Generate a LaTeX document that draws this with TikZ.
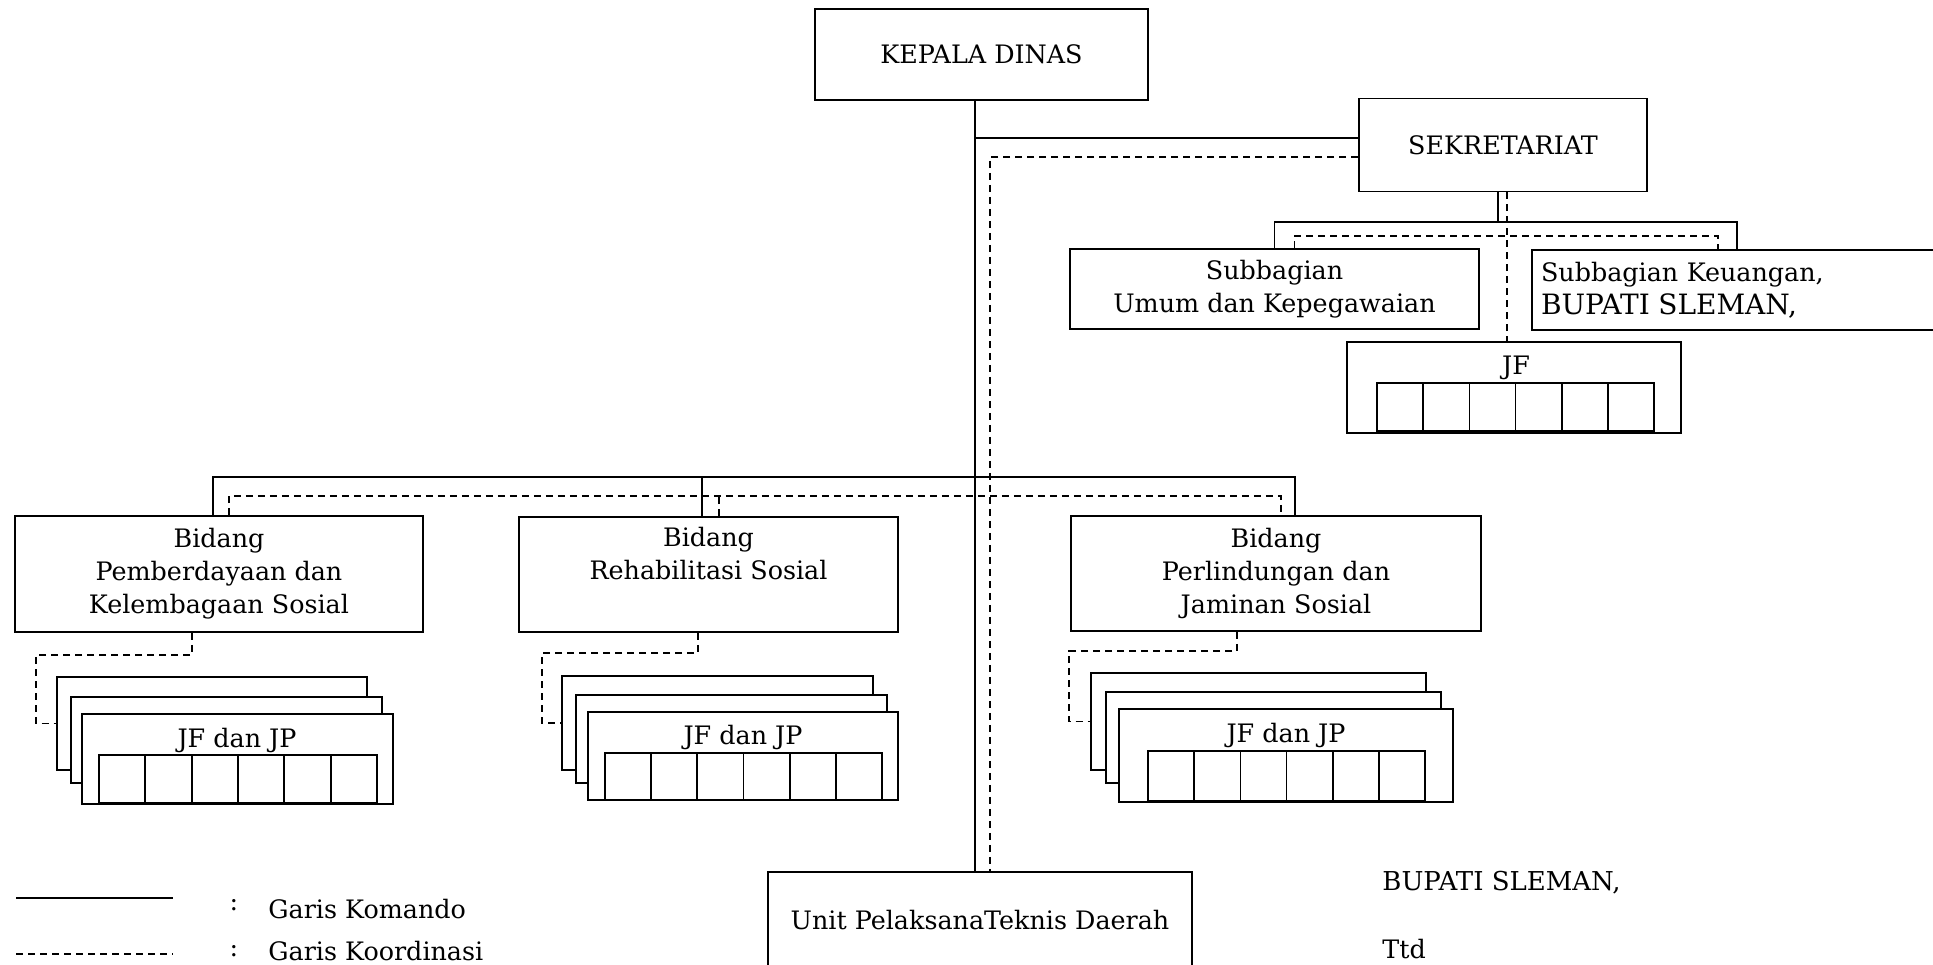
\documentclass[tikz,border=0pt]{standalone}
\usepackage{fontspec}
\setmainfont{DejaVu Serif}

\tikzset{
  box/.style={draw, line width=0.85pt, fill=white, inner sep=0pt, align=center, font=\fontsize{12.7}{16.5}\selectfont},
  sheet/.style={draw, line width=0.85pt, fill=white, inner sep=0pt},
  cell/.style={draw, line width=0.85pt},
  lbl/.style={inner sep=0pt, font=\fontsize{12.7}{16.5}\selectfont},
  komando/.style={line width=0.85pt},
  koord/.style={line width=0.85pt, dash pattern=on 3.5pt off 2.5pt}
}

\begin{document}
\begin{tikzpicture}[x=0.5pt,y=-0.5pt]
\useasboundingbox (0,0) rectangle (1933,964);
\clip (0,0) rectangle (1933,964);

% top
\node[box, minimum width=166.5pt, minimum height=45.5pt] (kepala) at (981.5,54.5) {KEPALA DINAS};
\node[box, minimum width=144pt, minimum height=46.5pt] (sekretariat) at (1503,145) {SEKRETARIAT};
\node[box, minimum width=204.5pt, minimum height=40pt] (subumum) at (1274.5,289) {Subbagian\\Umum dan Kepegawaian};
\node[box, minimum width=205pt, minimum height=40pt, text width=196pt, align=left] (subkeu) at (1737,290) {Subbagian Keuangan,\\{\fontsize{14}{17}\selectfont BUPATI SLEMAN,}};
\node[box, minimum width=167pt, minimum height=45.5pt] (jfsek) at (1514,387.5) {};
\node[lbl] (jfsektxt) at (1516,368) {JF};
\foreach \i in {0,...,5}
  \draw[cell] ({1377+\i*46.17},383) rectangle ++(46.17,48);

% bidang
\node[box, minimum width=204pt, minimum height=58pt] (bid1) at (219,574) {Bidang\\Pemberdayaan dan\\Kelembagaan Sosial};
\node[box, minimum width=189.5pt, minimum height=57.5pt] (bid2) at (708.5,574.5) {Bidang\\Rehabilitasi Sosial\\\strut};
\node[box, minimum width=205pt, minimum height=57.5pt] (bid3) at (1276,573.5) {Bidang\\Perlindungan dan\\Jaminan Sosial};

% jf dan jp
\node[sheet, minimum width=155pt, minimum height=46.5pt] (jf1a) at (212,723.5) {};
\node[sheet, minimum width=155.5pt, minimum height=43pt] (jf1b) at (226.5,740) {};
\node[sheet, minimum width=155.5pt, minimum height=45pt] (jf1c) at (237.5,759) {};
\node[lbl] (jf1txt) at (237,740) {JF dan JP};
\foreach \i in {0,...,5}
  \draw[cell] ({99+\i*46.33},755) rectangle ++(46.33,48);

\node[sheet, minimum width=155.5pt, minimum height=47pt] (jf2a) at (717.5,723) {};
\node[sheet, minimum width=155.5pt, minimum height=44pt] (jf2b) at (731.5,739) {};
\node[sheet, minimum width=155pt, minimum height=44pt] (jf2c) at (743,756) {};
\node[lbl] (jf2txt) at (743,737) {JF dan JP};
\foreach \i in {0,...,5}
  \draw[cell] ({605+\i*46.17},753) rectangle ++(46.17,47);

\node[sheet, minimum width=167.5pt, minimum height=48.5pt] (jf3a) at (1258.5,721.5) {};
\node[sheet, minimum width=167.5pt, minimum height=45.5pt] (jf3b) at (1273.5,737.5) {};
\node[sheet, minimum width=167pt, minimum height=46.5pt] (jf3c) at (1286,755.5) {};
\node[lbl] (jf3txt) at (1286,735) {JF dan JP};
\foreach \i in {0,...,5}
  \draw[cell] ({1148+\i*46.17},751) rectangle ++(46.17,50);

% bottom
\node[box, minimum width=212pt, minimum height=48pt] (unit) at (980,920) {Unit PelaksanaTeknis Daerah};
\node[lbl, anchor=base west, font=\fontsize{13}{16}\selectfont] (bupati) at (1382,890) {BUPATI SLEMAN,};
\node[lbl, anchor=base west] (ttd) at (1382,958) {Ttd};

% lines
\coordinate (trunk) at (975,477);
\coordinate (dtrunk) at (990,496);
\coordinate (sekbus) at (1498,222);
\coordinate (sekdash) at (1507,236);

\draw[komando] (kepala.south -| trunk) -- (unit.north -| trunk);
\draw[komando] ([yshift=3.5pt]sekretariat.west) -- ([yshift=3.5pt]sekretariat.west -| trunk);
\draw[koord] ([yshift=-6pt]sekretariat.west) -| (unit.north -| dtrunk);

\draw[komando] (sekretariat.south -| sekbus) -- (sekbus);
\draw[komando] (subumum.north) |- (sekbus) -| (subkeu.north);
\draw[koord] (sekretariat.south -| sekdash) -- (jfsek.north -| sekdash);
\draw[koord] ([xshift=10pt]subumum.north) |- (sekdash) -| ([xshift=-9.5pt]subkeu.north);

\draw[komando] ([xshift=-3pt]bid1.north) |- (trunk) -| ([xshift=9.5pt]bid3.north);
\draw[komando] ([xshift=-3.25pt]bid2.north) -- ([xshift=-3.25pt]bid2.north |- trunk);
\draw[koord] ([xshift=5pt]bid1.north) |- (dtrunk) -| ([xshift=2.5pt]bid3.north);
\draw[koord] ([xshift=5.25pt]bid2.north) -- ([xshift=5.25pt]bid2.north |- dtrunk);

\draw[koord] ([xshift=-13.5pt]bid1.south) -- ++(0,22) -| ([xshift=-10pt]jf1a.west) -- (jf1a.west);
\draw[koord] ([xshift=-5.25pt]bid2.south) -- ++(0,20) -| ([xshift=-9.5pt]jf2a.west) -- (jf2a.west);
\draw[koord] ([xshift=-19.5pt]bid3.south) -- ++(0,19) -| ([xshift=-10.5pt]jf3a.west) -- (jf3a.west);

% legend
\coordinate (lk1) at (16,898);
\coordinate (lk2) at (173,898);
\draw[komando] (lk1) -- (lk2);
\node[lbl] (lkcolon) at (234,905) {:};
\node[lbl, anchor=base west] (lktxt) at (268,918) {Garis Komando};
\coordinate (ld1) at (16,954);
\coordinate (ld2) at (173,954);
\draw[koord] (ld1) -- (ld2);
\node[lbl] (ldcolon) at (234,951) {:};
\node[lbl, anchor=base west] (ldtxt) at (268,960) {Garis Koordinasi};

\end{tikzpicture}
\end{document}
